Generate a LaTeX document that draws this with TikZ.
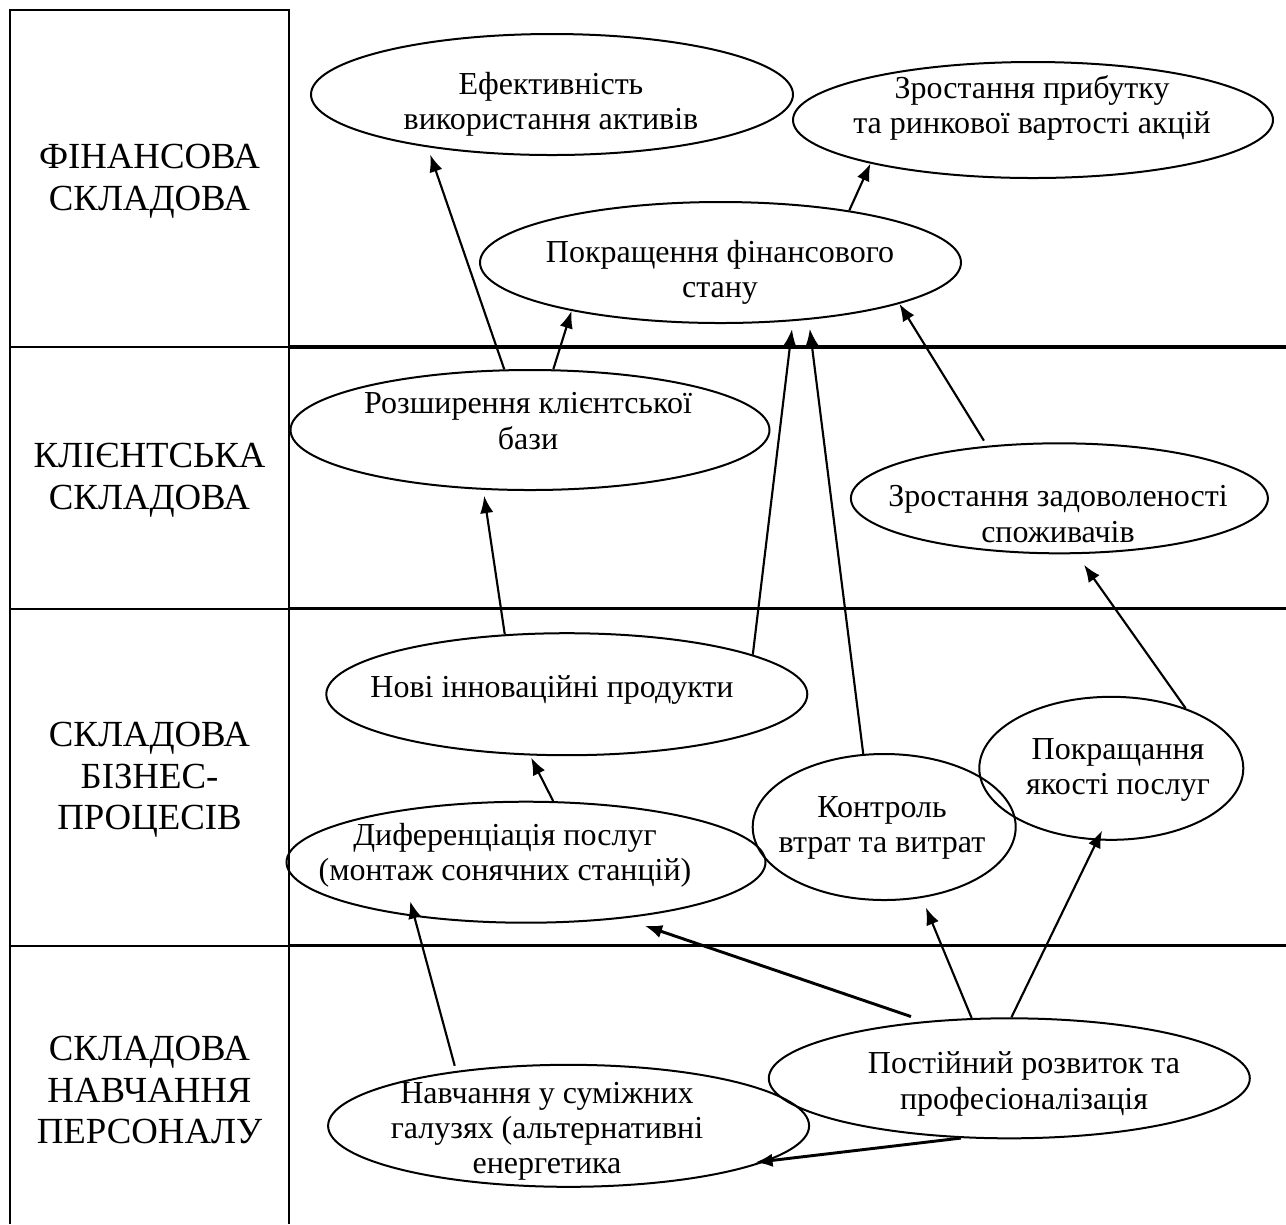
\documentclass[tikz,border=0pt]{standalone}
\usepackage{fontspec}
\setmainfont{Liberation Serif}
\usetikzlibrary{arrows.meta,shapes.geometric}
\begin{document}
\begin{tikzpicture}[x=0.375pt,y=-0.375pt,
  ell/.style={ellipse, draw, line width=0.75pt, inner sep=0pt},
  etxt/.style={align=center, inner sep=0pt, font=\fontsize{12}{13.2}\selectfont},
  ltxt/.style={align=center, inner sep=0pt, font=\fontsize{13.8}{15.6}\selectfont},
  gridline/.style={line width=0.75pt},
  bandline/.style={line width=1.3pt},
  arr/.style={-{Latex[length=6.5pt,width=5pt]}, line width=0.8pt},
  arrb/.style={arr, line width=1.1pt}]
\useasboundingbox (0,0) rectangle (1286,1224);

% table frame
\draw[gridline] (10,1224) -- (10,10) -- (289,10) -- (289,1224);
\draw[gridline] (10,347) -- (289,347);
\draw[gridline] (10,608.5) -- (289,608.5);
\draw[gridline] (10,945.5) -- (289,945.5);
\draw[bandline] (289,347) -- (1286,347);
\draw[bandline] (289,608.5) -- (1286,608.5);
\draw[bandline] (289,945.5) -- (1286,945.5);

% row labels
\node[ltxt] (l1) at (149.5,181) {ФІНАНСОВА\\СКЛАДОВА};
\node[ltxt] (l2) at (149.5,480) {КЛІЄНТСЬКА\\СКЛАДОВА};
\node[ltxt] (l3) at (149.5,780) {СКЛАДОВА\\БІЗНЕС-\\ПРОЦЕСІВ};
\node[ltxt] (l4) at (149.5,1090) {СКЛАДОВА\\НАВЧАННЯ\\ПЕРСОНАЛУ};

% ellipses
\node[ell, minimum width=180.75pt, minimum height=45.375pt] (e1) at (552,94.5) {};
\node[ell, minimum width=180pt, minimum height=43.5pt] (e2) at (1033,120) {};
\node[ell, minimum width=180.375pt, minimum height=45.375pt] (e3) at (720.5,262.5) {};
\node[ell, minimum width=179.625pt, minimum height=45pt] (e4) at (530,430) {};
\node[ell, minimum width=156.375pt, minimum height=41.25pt] (e5) at (1059.4,498.3) {};
\node[ell, minimum width=180.375pt, minimum height=45.75pt] (e6) at (566.8,694.2) {};
\node[ell, minimum width=179.625pt, minimum height=45.375pt] (e7) at (526,862.2) {};
\node[ell, minimum width=98.625pt, minimum height=54.75pt] (e8) at (884.2,827) {};
\node[ell, minimum width=99pt, minimum height=53.625pt] (e9) at (1111.3,768.3) {};
\node[ell, minimum width=180.375pt, minimum height=45.75pt] (e10) at (568.6,1125.8) {};
\node[ell, minimum width=180.375pt, minimum height=45pt] (e11) at (1009.3,1078.3) {};

% ellipse texts
\node[etxt] (t1) at (551,104) {Ефективність\\використання активів};
\node[etxt] (t2) at (1032,108) {Зростання прибутку\\та ринкової вартості акцій};
\node[etxt] (t3) at (720,272) {Покращення фінансового\\стану};
\node[etxt] (t4) at (528,421) {Розширення клієнтської\\бази};
\node[etxt] (t5) at (1058,514) {Зростання задоволеності\\споживачів};
\node[etxt] (t6) at (552,690) {Нові інноваційні продукти};
\node[etxt] (t7) at (505,855) {Диференціація послуг\\(монтаж сонячних станцій)};
\node[etxt] (t8) at (882,828) {Контроль\\втрат та витрат};
\node[etxt] (t9) at (1118,770) {Покращання\\якості послуг};
\node[etxt] (t10) at (547,1131) {Навчання у суміжних\\галузях (альтернативні\\енергетика};
\node[etxt] (t11) at (1024,1084) {Постійний розвиток та\\професіоналізація};

% connectors
\draw[arr, shorten >=2.9pt] (e4.113) -- (e1.-157);
\draw[arr] (e4.69) -- (e3.-162);
\draw[arr] (e3.22) -- (e2.-165);
\draw[arr, shorten >=3pt] (e6.12.5) -- (e3.-39);
\draw[arr, shorten >=3.4pt] (e8.106) -- (e3.-33);
\draw[arr, shorten <=2.25pt] (e5.144.8) -- (e3.-13.4);
\draw[arr, shorten >=2.25pt] (e6.136) -- (e4.-128.6);
\draw[arr, shorten >=4.9pt] (e9.39.4) -- (e5.-73.8);
\draw[arr, shorten >=0.9pt] (e7.66.3) -- (e6.-121.2);
\draw[arr, shorten <=2pt, shorten >=-6pt] (e10.154) -- (e7.-154);
\draw[arrb, shorten <=5.4pt, shorten >=8.5pt] (e11.146) -- (e7.-30);
\draw[arr, shorten >=3.9pt] (e11.122) -- (e8.-62.6);
\draw[arr, shorten >=-4.1pt] (e11.88.2) -- (e9.-101);
\draw[arrb, shorten >=-4.7pt] (e11.-129.5) -- (e10.-10.3);
\end{tikzpicture}
\end{document}
